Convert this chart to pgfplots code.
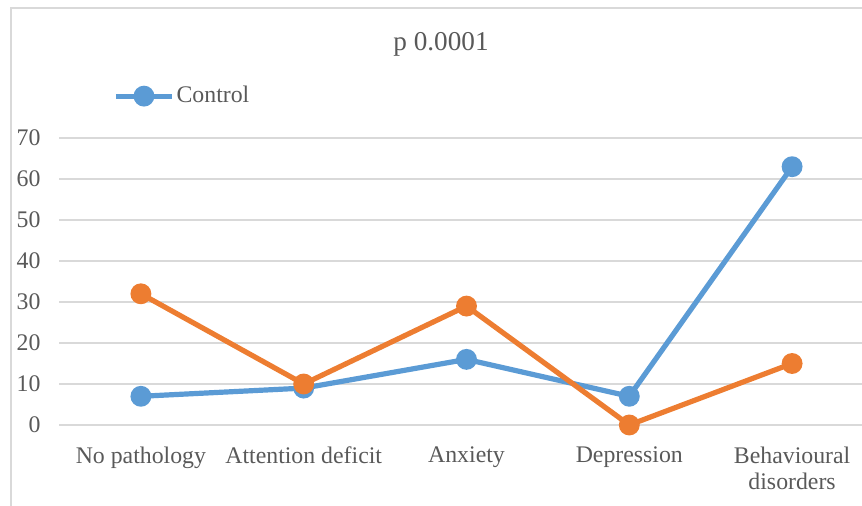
\documentclass[border=0pt]{standalone}
\usepackage{fontspec}
\setmainfont{Liberation Serif}
\usepackage{pgfplots}
\pgfplotsset{compat=1.18}
\definecolor{ctrlblue}{HTML}{5B9BD5}
\definecolor{caseorange}{HTML}{ED7D31}
\definecolor{gridgray}{HTML}{D9D9D9}
\definecolor{txtgray}{HTML}{595959}

\begin{document}
\begin{tikzpicture}
\useasboundingbox (-29.75pt,-40.5pt) rectangle (401.25pt,212.5pt);
\clip (-29.75pt,-40.5pt) rectangle (401.25pt,212.5pt);
% chart frame (cut off at right and bottom)
\draw[gridgray, line width=0.9pt] (-24.25pt,-60pt) -- (-24.25pt,208.5pt) -- (430pt,208.5pt);
\begin{axis}[
    at={(0,0)}, anchor=south west,
    scale only axis,
    width=407pt, height=143.5pt,
    xmin=-0.5, xmax=4.5,
    ymin=0, ymax=70,
    ytick={0,10,...,70},
    xtick={0,1,2,3,4},
    xticklabels={No pathology, Attention deficit, Anxiety, Depression, Behavioural\\disorders},
    axis line style={draw=none},
    tick style={draw=none},
    ymajorgrids=true,
    grid style={gridgray, line width=0.9pt},
    font=\fontsize{11.9}{13.2}\selectfont,
    /pgf/number format/assume math mode=true,
    ticklabel style={txtgray},
    yticklabel style={anchor=east, xshift=-6pt},
    xticklabel style={align=center, anchor=north, yshift=-7.5pt},
    title={p 0.0001},
    title style={at={(0.4687,1.285)}, anchor=center, txtgray, font=\fontsize{13.6}{15}\selectfont},
    legend style={at={(0.0657,1.146)}, anchor=west, draw=none, fill=none,
        inner sep=0pt, text=txtgray,
        nodes={inner xsep=1pt, inner ysep=0pt}},
    legend image code/.code={%
        \draw[mark repeat=2, mark phase=2] plot coordinates {(0pt,0pt) (14pt,0pt) (28pt,0pt)};},
    clip=false,
]
\addplot[ctrlblue, line width=2.6pt, mark=*, mark size=3.9pt, mark options={solid, fill=ctrlblue, draw=none}]
    coordinates {(0,7) (1,9) (2,16) (3,7) (4,63)};
\addlegendentry{Control}
\addplot[caseorange, line width=2.6pt, mark=*, mark size=3.9pt, mark options={solid, fill=caseorange, draw=none}, forget plot]
    coordinates {(0,32) (1,10) (2,29) (3,0) (4,15)};
\end{axis}
\end{tikzpicture}
\end{document}
